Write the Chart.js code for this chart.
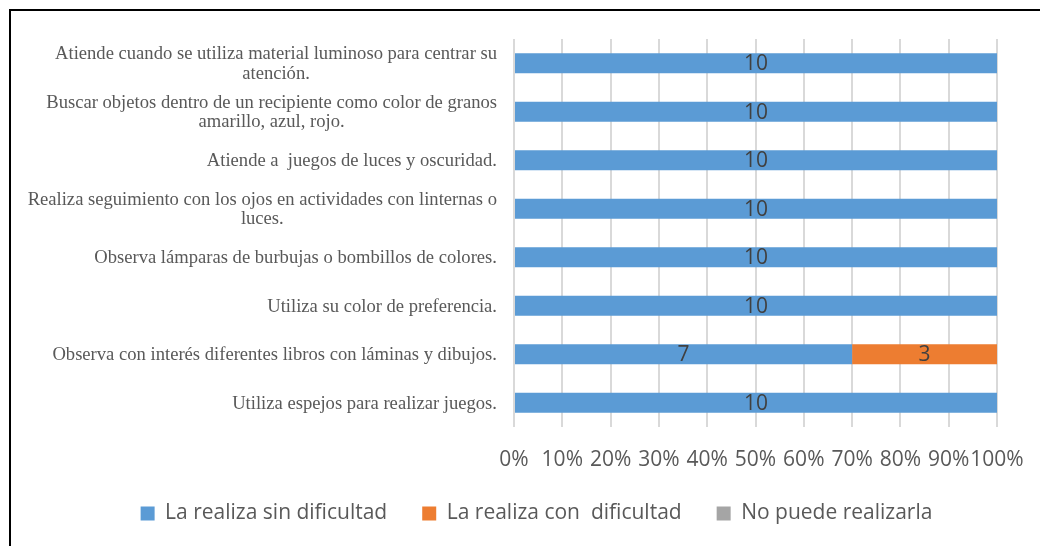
<!DOCTYPE html>
<html>
<head>
<meta charset="utf-8">
<script src="https://cdn.jsdelivr.net/npm/chart.js@4"></script>
<style>
  html, body { margin: 0; padding: 0; background: #fff; overflow: hidden; }
  #wrap { position: relative; width: 1040px; height: 546px; }
  #frame { position: absolute; left: 9px; top: 9px; width: 1100px; height: 600px; border: 2px solid #000; box-sizing: border-box; pointer-events: none; }
</style>
</head>
<body>
<div id="wrap">
  <canvas id="chart" width="1040" height="546"></canvas>
  <div id="frame"></div>
</div>
<script>
const categories = [
    ['Atiende cuando se utiliza material luminoso para centrar su', 'atención.'],
    ['Buscar objetos dentro de un recipiente como color de granos', 'amarillo, azul, rojo.'],
    ['Atiende a  juegos de luces y oscuridad.'],
    ['Realiza seguimiento con los ojos en actividades con linternas o', 'luces.'],
    ['Observa lámparas de burbujas o bombillos de colores.'],
    ['Utiliza su color de preferencia.'],
    ['Observa con interés diferentes libros con láminas y dibujos.'],
    ['Utiliza espejos para realizar juegos.']
];
const sinDificultad = [10, 10, 10, 10, 10, 10, 7, 10];
const conDificultad = [0, 0, 0, 0, 0, 0, 3, 0];
const noPuede = [0, 0, 0, 0, 0, 0, 0, 0];
const seriesNames = ['La realiza sin dificultad', 'La realiza con  dificultad', 'No puede realizarla'];
const tickValues = [0, 10, 20, 30, 40, 50, 60, 70, 80, 90, 100];

const counts = [sinDificultad, conDificultad, noPuede];
const totals = categories.map((c, i) => counts.reduce((s, arr) => s + arr[i], 0));
const toPct = arr => arr.map((v, i) => totals[i] ? v / totals[i] * 100 : 0);

const colors = ['#5B9BD5', '#ED7D31', '#A5A5A5'];
const sans = '"Open Sans", sans-serif';
const serif = '"Liberation Serif", "Times New Roman", serif';

// draws the count inside each segment
const valueLabels = {
    id: 'valueLabels',
    afterDatasetsDraw(chart) {
        const ctx = chart.ctx;
        ctx.save();
        ctx.font = '21px ' + sans;
        ctx.fillStyle = '#404040';
        ctx.textAlign = 'center';
        ctx.textBaseline = 'middle';
        chart.data.datasets.forEach((ds, di) => {
            const meta = chart.getDatasetMeta(di);
            meta.data.forEach((el, i) => {
                const v = counts[di][i];
                if (!v) return;
                ctx.fillText(String(v), (el.x + el.base) / 2, el.y + 1);
            });
        });
        ctx.restore();
    }
};

// category labels: block right-aligned, lines centered within block
const categoryLabels = {
    id: 'categoryLabels',
    afterDraw(chart) {
        const ctx = chart.ctx;
        const yScale = chart.scales.y;
        const right = 497;
        const lh = 19.5;
        ctx.save();
        ctx.font = '18.6px ' + serif;
        ctx.fillStyle = '#595959';
        ctx.textAlign = 'center';
        ctx.textBaseline = 'middle';
        categories.forEach((lines, i) => {
            const y = yScale.getPixelForValue(i);
            const w = Math.max(...lines.map(l => ctx.measureText(l).width));
            const cx = right - w / 2;
            const y0 = y - (lines.length - 1) * lh / 2 + 1;
            lines.forEach((l, k) => ctx.fillText(l, cx, y0 + k * lh));
        });
        ctx.restore();
    }
};

new Chart(document.getElementById('chart').getContext('2d'), {
    type: 'bar',
    data: {
        labels: categories,
        datasets: seriesNames.map((name, k) => ({
            label: name,
            data: toPct(counts[k]),
            backgroundColor: colors[k],
            borderWidth: 0,
            barPercentage: 0.82,
            categoryPercentage: 0.5
        }))
    },
    options: {
        indexAxis: 'y',
        responsive: false,
        animation: false,
        layout: { padding: { left: 76, right: 43, top: 39, bottom: 12 } },
        scales: {
            x: {
                stacked: true,
                min: 0,
                max: 100,
                afterBuildTicks: s => { s.ticks = tickValues.map(v => ({ value: v })); },
                afterFit: s => { s.height = 41; s.paddingLeft = 0; s.paddingRight = 0; },
                grid: { color: '#D9D9D9', lineWidth: 2, drawTicks: false },
                border: { display: false },
                ticks: {
                    padding: 23,
                    color: '#595959',
                    font: { family: sans, size: 21, lineHeight: 1 },
                    maxRotation: 0,
                    autoSkip: false,
                    callback: v => v + '%'
                }
            },
            y: {
                stacked: true,
                grid: { display: false },
                border: { display: false },
                ticks: { display: false },
                afterFit: s => { s.width = 438; }
            }
        },
        plugins: {
            legend: {
                position: 'bottom',
                labels: {
                    boxWidth: 14,
                    boxHeight: 14,
                    padding: 35,
                    color: '#595959',
                    font: { family: sans, size: 21, lineHeight: 1 }
                }
            },
            tooltip: { enabled: false }
        }
    },
    plugins: [valueLabels, categoryLabels]
});
</script>
</body>
</html>
